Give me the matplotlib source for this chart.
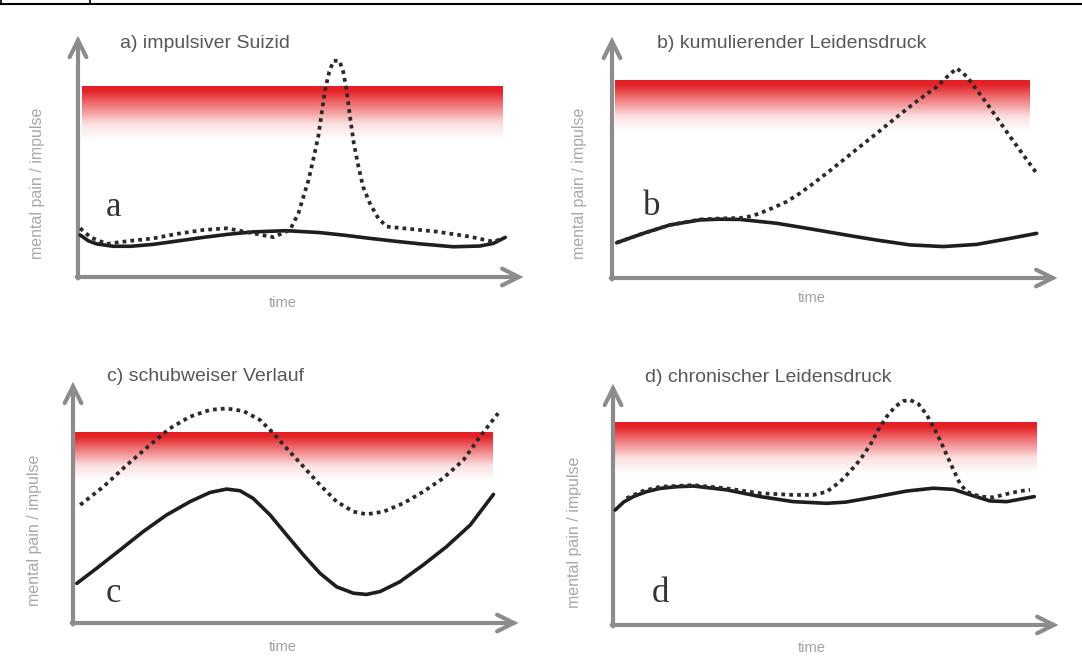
import numpy as np
import matplotlib
matplotlib.use("Agg")
import matplotlib.pyplot as plt
from matplotlib.colors import LinearSegmentedColormap
from matplotlib.lines import Line2D

# --- data: time (0-100) and level (0-100) ---
titles = ["a) impulsiver Suizid", "b) kumulierender Leidensdruck",
          "c) schubweiser Verlauf", "d) chronischer Leidensdruck"]
letters = ["a", "b", "c", "d"]
y_label = "mental pain / impulse"
x_label = "time"

a_solid_t = [0.5, 2.5, 4.4, 8.3, 12.5, 17.8, 23.5, 29.6, 35.5, 41.4, 49.3, 57.2, 63,
             69, 75, 80.9, 88.7, 95, 98.2, 101]
a_solid_y = [17.5, 15, 13.8, 12.8, 12.8, 13.6, 15, 16.5, 17.8, 18.8, 19.3, 18.5, 17.4,
             16.1, 14.9, 13.8, 12.6, 12.9, 14.0, 16.5]
a_dot_t = [0.5, 3, 6.8, 12, 17.8, 23.5, 29.6, 35.1, 41.4, 46.2, 50.1, 52.1, 53.3, 54.5,
           55.6, 56.8, 57.6, 58.4, 59.4, 60.4, 61.8, 62.7, 63.5, 64.3, 65.2, 66.3, 67.4,
           69, 71, 73, 76.9, 84.8, 92.7, 98.2, 100.5]
a_dot_y = [20.3, 16.5, 13.8, 15, 16.1, 18, 19.6, 20.3, 18.2, 16.6, 19.6, 26.5, 33.5, 40.4,
           48.8, 58.5, 68.2, 77.9, 85.5, 90.1, 90.1, 85.5, 77.9, 66.8, 55.7, 46, 37.6,
           30.7, 24.4, 21, 20.3, 18.9, 16.8, 14.7, 16.1]

b_solid_t = [1.1, 7.4, 13.7, 20.8, 25.5, 30.3, 38.9, 44.8, 50.8, 56.7, 62.6, 70.4, 78.3,
             86.2, 94.1, 100.4]
b_solid_y = [14.7, 18.6, 22.1, 24.2, 24.5, 24.4, 22.8, 21.1, 19.3, 17.5, 15.8, 13.8, 13.1,
             14, 16.5, 18.6]
b_dot_t = [1.1, 7.4, 13.7, 20.8, 25.5, 30.3, 33, 35, 38, 41.3, 44.5, 47.6, 51, 54.7,
           58.6, 62.6, 66.5, 70.4, 73.6, 76.8, 79.2, 81.5, 83.9, 88.6, 94.1, 100.4]
b_dot_y = [14.7, 18.6, 22.1, 24.4, 24.8, 25, 25.8, 27, 29.2, 31.8, 35.4, 39.4, 44, 49.2,
           54.7, 60.3, 65.9, 71.4, 75.7, 79.7, 83.8, 87.4, 83.9, 72.8, 58.9, 43.6]

c_solid_t = [0.9, 5.6, 11.1, 16.6, 22.1, 27.7, 32.4, 36.3, 39.5, 42.6, 46.6, 50.5, 54.5,
             58.4, 62.3, 66.3, 69.4, 72.6, 77.3, 82.8, 88.3, 93.9, 99.4]
c_solid_y = [16.5, 22.8, 30.4, 38.1, 45, 50.6, 54.4, 55.8, 55.1, 51.9, 45, 36.7, 28.3,
             20.7, 15.1, 12.4, 11.9, 13.1, 17.2, 24.2, 31.8, 40.8, 53.6]
c_dot_t = [1.7, 7.2, 12.7, 18.2, 22.9, 27.7, 32.4, 36.3, 40.3, 44.2, 47.4, 50.5, 54.5,
           58.4, 62.3, 66.3, 69.4, 73.4, 78.1, 82.8, 87.5, 92.3, 96.2, 100.5]
c_dot_y = [49.2, 56.8, 65.8, 74.2, 81.1, 86, 88.8, 89.4, 88.3, 84.6, 79, 72.8, 65.1,
           57.5, 50.6, 46.4, 45.3, 46.4, 49.9, 54.7, 60.3, 67.9, 77.6, 87.4]

d_solid_t = [0.5, 2.5, 4.8, 7.8, 11.1, 15, 19, 26.9, 34.8, 42.6, 50.5, 55, 61.5, 69.4,
             75.7, 80.5, 85.2, 89.1, 93.1, 96.2, 99.6]
d_solid_y = [47.9, 51.2, 53.5, 55.5, 56.9, 57.6, 57.9, 56.3, 53.5, 51.4, 50.7, 51.2,
             53.2, 55.8, 57, 56.5, 53.8, 51.7, 51.4, 52.4, 53.5]
d_dot_t = [3.2, 7, 11.1, 19, 26.9, 34.8, 42.6, 47.4, 50.5, 53.7, 56, 58.4, 60.8, 62.7,
           64.7, 66.7, 68.6, 70.2, 72.2, 74.2, 75.7, 77.3, 78.9, 80.5, 82, 83.6, 86.8,
           89.9, 93.1, 96.2, 98.6]
d_dot_y = [52.8, 55.8, 57.6, 58.3, 56.9, 54.9, 54.2, 54.2, 55.5, 59.7, 63.9, 68.8, 75,
           81.3, 86.8, 91, 93.3, 93.8, 92.1, 87.5, 82.6, 77.1, 70.8, 64.6, 59, 55.5, 53.5,
           53.2, 54.6, 55.8, 56.3]

# red critical zone per panel: t start, t end, top level, level where it fades out
band_t0 = [1, 0.7, 0.5, 0.5]
band_t1 = [100.5, 98.6, 99.3, 100.2]
band_top = [79.2, 82.5, 79.6, 84.2]
band_bottom = [57, 61, 59.6, 63.3]

solids = [(a_solid_t, a_solid_y), (b_solid_t, b_solid_y),
          (c_solid_t, c_solid_y), (d_solid_t, d_solid_y)]
dots = [(a_dot_t, a_dot_y), (b_dot_t, b_dot_y), (c_dot_t, c_dot_y), (d_dot_t, d_dot_y)]

# --- layout ---
W, H = 1082, 672
PX_T, PX_Y = 4.23, 2.4          # pixels per unit
origins = [(78, 277), (612, 278), (73, 623), (613, 625)]
title_pos = [(9.9, 97.2), (10.6, 97.6), (8.0, 102.8), (7.6, 103.2)]
letter_pos = [(8.3, 28.8), (9.5, 29.6), (9.5, 12.5), (11.1, 13.3)]
ylab_pos = [(-9.5, 39), (-7.6, 39.6), (-9, 38.8), (-9, 38.8)]
xlab_pos = [(48.5, -10.8), (47.3, -8.3), (49.6, -10), (47, -9.6)]

red_cmap = LinearSegmentedColormap.from_list(
    "zone", [(0, "#ffffff"), (0.3, "#fbe0e0"), (0.7, "#ee6668"), (0.9, "#e42529"), (1, "#e31e24")])
grad = np.linspace(0, 1, 256).reshape(-1, 1)

fig = plt.figure(figsize=(W / 100, H / 100), dpi=100)
fig.patch.set_facecolor("white")

axis_gray = "#8c8c8c"
for i in range(4):
    ox, oy = origins[i]
    t_lo, t_hi, y_lo, y_hi = -5, 110, -8, 106
    ax = fig.add_axes([(ox + t_lo * PX_T) / W, (H - oy + y_lo * PX_Y) / H,
                       (t_hi - t_lo) * PX_T / W, (y_hi - y_lo) * PX_Y / H])
    ax.imshow(grad, cmap=red_cmap, origin="lower", aspect="auto", interpolation="bilinear",
              extent=[band_t0[i], band_t1[i], band_bottom[i], band_top[i]], zorder=1)
    ax.set_xlim(t_lo, t_hi)
    ax.set_ylim(y_lo, y_hi)
    ax.axis("off")

    # axes arrows
    arrow = dict(arrowstyle="->", lw=3, color=axis_gray, mutation_scale=30,
                 shrinkA=0, shrinkB=0, joinstyle="miter")
    ax.annotate("", xy=(105.3, 0), xytext=(-0.3, 0), arrowprops=arrow, zorder=2)
    ax.annotate("", xy=(0, 100.5), xytext=(0, -0.6), arrowprops=arrow, zorder=2)

    st, sy = solids[i]
    ax.plot(st, sy, color="#1e1e1e", lw=2.6, solid_capstyle="round",
            solid_joinstyle="round", zorder=3, clip_on=False)
    dt, dy = dots[i]
    ax.plot(dt, dy, color="#2a2a2a", lw=2.7, linestyle=(0, (1, 1.1)), zorder=4, clip_on=False)

    ax.text(*title_pos[i], titles[i], fontsize=14, color="#585858",
            family="Liberation Sans", ha="left", va="center")
    ax.text(*letter_pos[i], letters[i], fontsize=25, color="#333333",
            family="Liberation Serif", ha="center", va="center")
    ax.text(*ylab_pos[i], y_label, fontsize=11.5, color="#a8a8a8", rotation=90,
            family="Liberation Sans", ha="center", va="center")
    ax.text(*xlab_pos[i], x_label, fontsize=10.5, color="#a0a0a0",
            family="Liberation Sans", ha="center", va="center")

# remains of a table border at the top
fig.add_artist(Line2D([0, 1], [1 - 4 / H, 1 - 4 / H], color="black", lw=1.5,
                      transform=fig.transFigure))
fig.add_artist(Line2D([90 / W, 90 / W], [1 - 4 / H, 1], color="black", lw=1.2,
                      transform=fig.transFigure))
fig.add_artist(Line2D([1 / W, 1 / W], [1 - 4 / H, 1], color="black", lw=1.2,
                      transform=fig.transFigure))

fig.savefig("out.png", dpi=100, facecolor="white")
